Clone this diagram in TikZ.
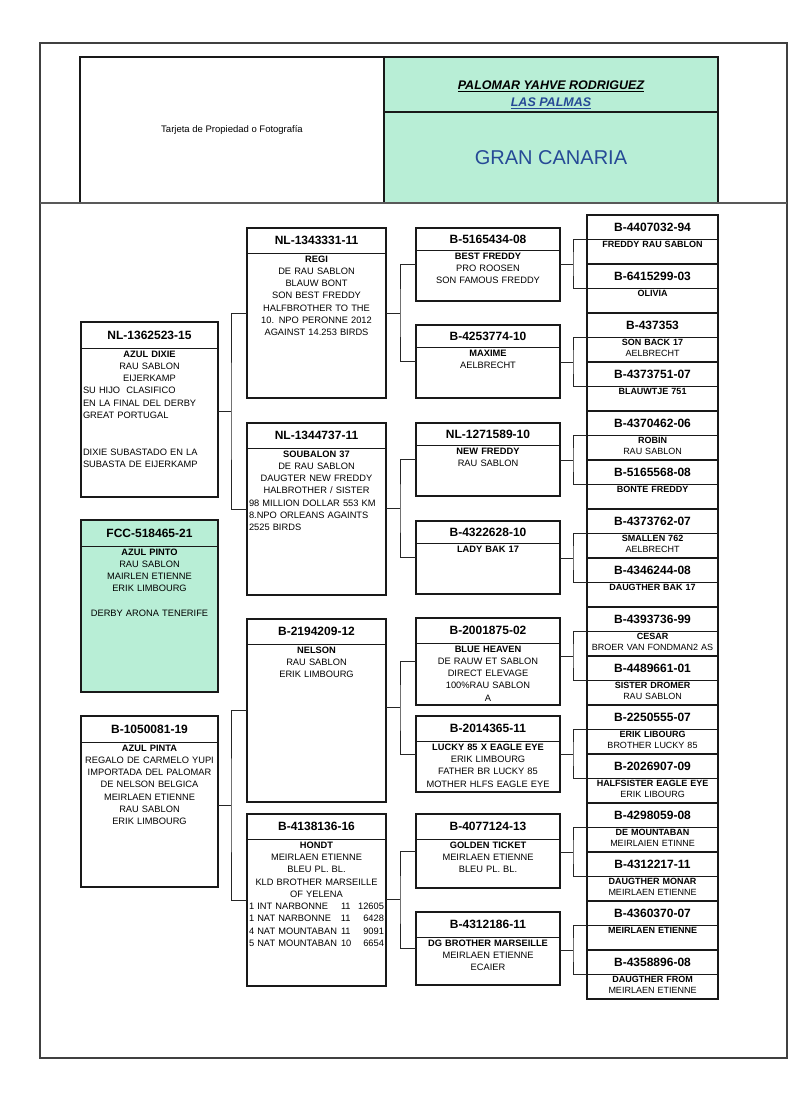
\documentclass[tikz,border=0pt]{standalone}
\usepackage{fontspec}
\setmainfont{Liberation Sans}
\usetikzlibrary{calc}

\definecolor{pgreen}{RGB}{184,238,214}
\definecolor{pblue}{RGB}{38,74,150}

\newcommand{\lft}[1]{\makebox[\linewidth][l]{#1}}
\newcommand{\race}[3]{\leavevmode\hbox to \linewidth{\makebox[92pt][l]{#1}#2\hfill#3}}
\def\hh{25}
% card: name, x, y, width, height, ring number, text
\newcommand{\pcard}[8][]{%
  \pgfmathsetlengthmacro\pw{#5-4}%
  \node[card, minimum width=#5, minimum height=#6, #1] (#2) at (#3,{#4}) {};
  \node[ring, text width=\pw, minimum height=\hh] (#2-r) at (#2.north) {#7};
  \draw[rule] (#2-r.south -| #2.west) -- (#2-r.south -| #2.east);
  \node[info, text width=\pw] (#2-t) at (#2-r.south) {#8};
}
% parent to its two parents
\newcommand{\pfork}[4]{%
  \coordinate (#1-m) at ($(#2.west)!.5!(#3.west)+(-#4,0)$);
  \draw[link] (#2.west) -| (#1-m) |- (#3.west);
  \draw[link] (#1.east |- #1-m) -- (#1-m);
}

\begin{document}
\begin{tikzpicture}[x=1pt, y=-1pt,
    card/.style={draw=black!90, line width=1.2pt, anchor=north west, outer sep=0pt, inner sep=0pt},
    rule/.style={draw=black!90, line width=1pt},
    ring/.style={anchor=north, inner sep=0pt, align=center, font=\bfseries\fontsize{12}{14}\selectfont},
    info/.style={anchor=north, inner xsep=0pt, inner ysep=2pt, align=center, font=\fontsize{9.3}{12.3}\selectfont},
    link/.style={draw=black!85, line width=0.8pt}]
  \fill[white] (0,0) rectangle (800,1110);
  \useasboundingbox (0,0) rectangle (800,1110);

  % header
  \draw[black!75, line width=1.2pt] (40,43) rectangle (787,1058);
  \node[card, minimum width=304, minimum height=146, font=\fontsize{9.5}{11}\selectfont] (photo) at (80,57) {Tarjeta de Propiedad o Fotografía};
  \node[card, fill=pgreen, minimum width=334, minimum height=146] (loft) at (384,57) {};
  \draw[rule, line width=1.2pt] (loft.west |- 0,112) -- (loft.east |- 0,112);
  \node[font=\bfseries\itshape\fontsize{12.5}{14}\selectfont] (owner) at (551,86) {\underline{PALOMAR YAHVE RODRIGUEZ}};
  \node[font=\bfseries\itshape\fontsize{12.5}{14}\selectfont, text=pblue] (town) at (551,103) {\underline{LAS PALMAS}};
  \node[font=\fontsize{20}{24}\selectfont, text=pblue] (isle) at (551,158) {GRAN CANARIA};
  \draw[black!65, line width=2.5pt] (40,203) -- (787,203);

  % first column
  \def\hh{26}
  \pcard{c1-1}{81}{322}{137}{175}{NL-1362523-15}{{\bfseries AZUL DIXIE}\\RAU SABLON\\EIJERKAMP\\\lft{SU HIJO\ \ CLASIFICO}\\\lft{EN LA FINAL DEL DERBY}\\\lft{GREAT PORTUGAL}\\[24.6pt]\lft{DIXIE SUBASTADO EN LA}\\\lft{SUBASTA DE EIJERKAMP}}
  \pcard[fill=pgreen]{c1-2}{81}{520}{137}{172}{FCC-518465-21}{{\bfseries AZUL PINTO}\\RAU SABLON\\MAIRLEN ETIENNE\\ERIK LIMBOURG\\[12.3pt]DERBY ARONA TENERIFE}
  \pcard{c1-3}{81}{716}{137}{171}{B-1050081-19}{{\bfseries AZUL PINTA}\\REGALO DE CARMELO YUPI\\IMPORTADA DEL PALOMAR\\DE NELSON BELGICA\\MEIRLAEN ETIENNE\\RAU SABLON\\ERIK LIMBOURG}

  % second column
  \def\hh{25}
  \pcard{c2-1}{247}{228}{139}{170}{NL-1343331-11}{{\bfseries REGI}\\DE RAU SABLON\\BLAUW BONT\\SON BEST FREDDY\\HALFBROTHER TO THE\\10. NPO PERONNE 2012\\AGAINST 14.253 BIRDS}
  \pcard{c2-2}{247}{423}{139}{172}{NL-1344737-11}{{\bfseries SOUBALON 37}\\DE RAU SABLON\\DAUGTER NEW FREDDY\\HALBROTHER / SISTER\\\lft{98 MILLION DOLLAR 553 KM}\\\lft{8.NPO ORLEANS AGAINTS}\\\lft{2525 BIRDS}}
  \pcard{c2-3}{247}{619}{139}{183}{B-2194209-12}{{\bfseries NELSON}\\RAU SABLON\\ERIK LIMBOURG}
  \pcard{c2-4}{247}{814}{139}{172}{B-4138136-16}{{\bfseries HONDT}\\MEIRLAEN ETIENNE\\BLEU PL. BL.\\KLD BROTHER MARSEILLE\\OF YELENA\\\race{1 INT NARBONNE}{11}{12605}\\\race{1 NAT NARBONNE}{11}{6428}\\\race{4 NAT MOUNTABAN}{11}{9091}\\\race{5 NAT MOUNTABAN}{10}{6654}}

  % third column
  \def\hh{22}
  \pcard{c3-1}{416}{228}{144}{73}{B-5165434-08}{{\bfseries BEST FREDDY}\\PRO ROOSEN\\SON FAMOUS FREDDY}
  \pcard{c3-2}{416}{325}{144}{73}{B-4253774-10}{{\bfseries MAXIME}\\AELBRECHT}
  \pcard{c3-3}{416}{423}{144}{73}{NL-1271589-10}{{\bfseries NEW FREDDY}\\RAU SABLON}
  \pcard{c3-4}{416}{521}{144}{73}{B-4322628-10}{{\bfseries LADY BAK 17}}
  \def\hh{25}
  \pcard{c3-5}{416}{618}{144}{87}{B-2001875-02}{{\bfseries BLUE HEAVEN}\\DE RAUW ET SABLON\\DIRECT ELEVAGE\\100\%RAU SABLON\\A}
  \pcard{c3-6}{416}{716}{144}{76}{B-2014365-11}{{\bfseries LUCKY 85 X EAGLE EYE}\\ERIK LIMBOURG\\FATHER BR LUCKY 85\\MOTHER HLFS EAGLE EYE}
  \pcard{c3-7}{416}{814}{144}{74}{B-4077124-13}{{\bfseries GOLDEN TICKET}\\MEIRLAEN ETIENNE\\BLEU PL. BL.}
  \pcard{c3-8}{416}{912}{144}{73}{B-4312186-11}{{\bfseries DG BROTHER MARSEILLE}\\MEIRLAEN ETIENNE\\ECAIER}

  % fourth column
  \def\hh{24}
  \begin{scope}[info/.append style={font=\fontsize{9}{11}\selectfont}]
    \foreach \i/\pid/\pname/\pline in {
      1/B-4407032-94/FREDDY RAU SABLON/{},
      2/B-6415299-03/OLIVIA/{},
      3/B-437353/SON BACK 17/AELBRECHT,
      4/B-4373751-07/BLAUWTJE 751/{},
      5/B-4370462-06/ROBIN/RAU SABLON,
      6/B-5165568-08/BONTE FREDDY/{},
      7/B-4373762-07/SMALLEN 762/AELBRECHT,
      8/B-4346244-08/DAUGTHER BAK 17/{},
      9/B-4393736-99/CESAR/BROER VAN FONDMAN2 AS,
      10/B-4489661-01/SISTER DROMER/RAU SABLON,
      11/B-2250555-07/ERIK LIBOURG/BROTHER LUCKY 85,
      12/B-2026907-09/HALFSISTER EAGLE EYE/ERIK LIBOURG,
      13/B-4298059-08/DE MOUNTABAN/MEIRLAIEN ETINNE,
      14/B-4312217-11/DAUGTHER MONAR/MEIRLAEN ETIENNE,
      15/B-4360370-07/MEIRLAEN ETIENNE/{},
      16/B-4358896-08/DAUGTHER FROM/MEIRLAEN ETIENNE}{
      \pcard{c4-\i}{587}{215+49*(\i-1)}{131}{49}{\pid}{{\bfseries\pname}\\\pline}
    }
  \end{scope}

  % lines between generations
  \pfork{c1-1}{c2-1}{c2-2}{16}
  \pfork{c1-3}{c2-3}{c2-4}{16}
  \foreach \k in {1,...,4}{
    \pgfmathtruncatemacro\ca{2*\k-1}
    \pgfmathtruncatemacro\cb{2*\k}
    \pfork{c2-\k}{c3-\ca}{c3-\cb}{16}
  }
  \foreach \k in {1,...,8}{
    \pgfmathtruncatemacro\ca{2*\k-1}
    \pgfmathtruncatemacro\cb{2*\k}
    \pfork{c3-\k}{c4-\ca}{c4-\cb}{14}
  }
\end{tikzpicture}
\end{document}
